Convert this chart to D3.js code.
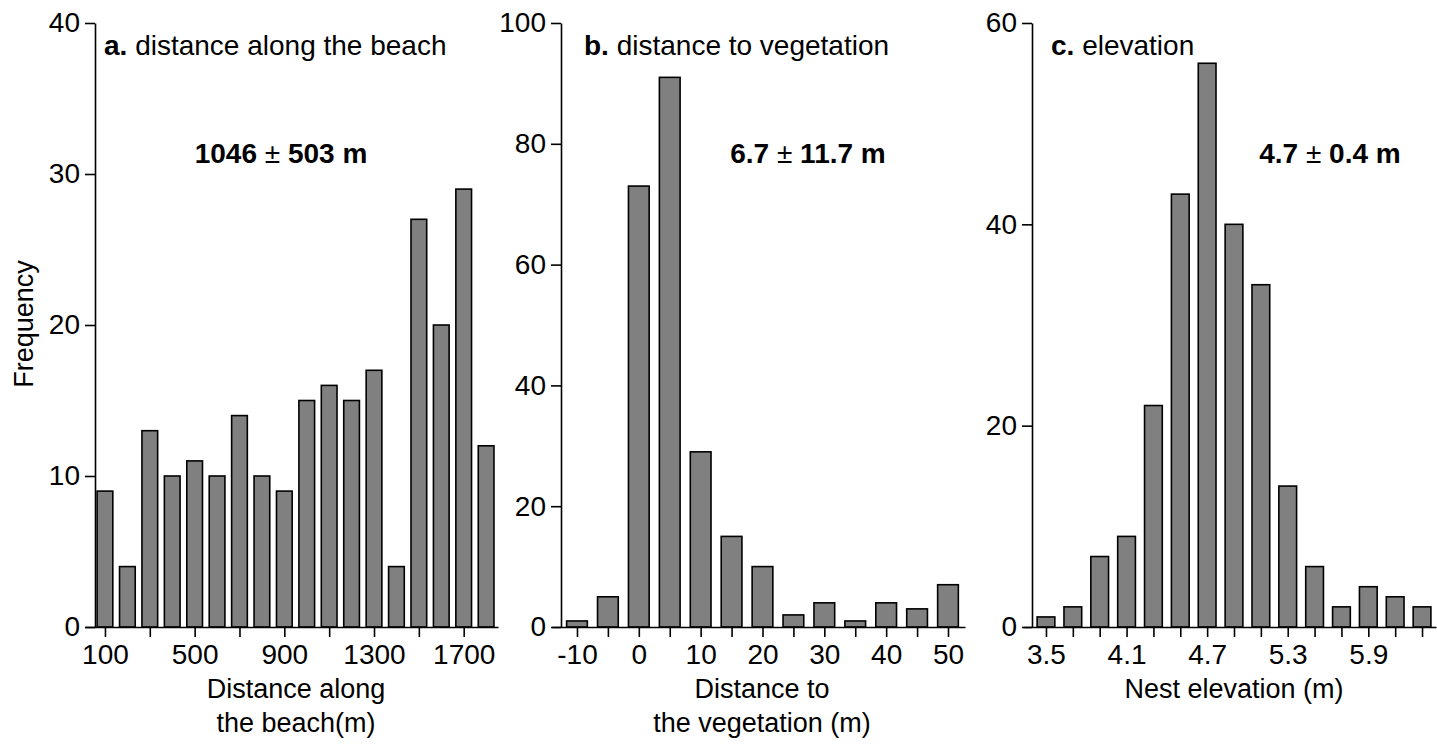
<!DOCTYPE html>
<html>
<head>
<meta charset="utf-8">
<script src="https://cdn.jsdelivr.net/npm/d3@7"></script>
<style>
  body { margin: 0; background: #fff; }
  svg { display: block; font-family: "Liberation Sans", Arial, sans-serif; }
</style>
</head>
<body>
<svg id="chart" width="1437" height="747"></svg>
<script>
// ---- data ----
const beachBins = [100,200,300,400,500,600,700,800,900,1000,1100,1200,1300,1400,1500,1600,1700,1800];
const beachFreq = [9,4,13,10,11,10,14,10,9,15,16,15,17,4,27,20,29,12];
const beachTicks = [100,300,500,700,900,1100,1300,1500,1700];
const beachLabels = [100,500,900,1300,1700];
const beachYTicks = [0,10,20,30,40];

const vegBins = [-10,-5,0,5,10,15,20,25,30,35,40,45,50];
const vegFreq = [1,5,73,91,29,15,10,2,4,1,4,3,7];
const vegTicks = [-10,-5,0,5,10,15,20,25,30,35,40,45,50];
const vegLabels = [-10,0,10,20,30,40,50];
const vegYTicks = [0,20,40,60,80,100];

const elevBins = [3.5,3.7,3.9,4.1,4.3,4.5,4.7,4.9,5.1,5.3,5.5,5.7,5.9,6.1,6.3];
const elevFreq = [1,2,7,9,22,43,56,40,34,14,6,2,4,3,2];
const elevTicks = [3.5,3.7,3.9,4.1,4.3,4.5,4.7,4.9,5.1,5.3,5.5,5.7,5.9,6.1,6.3];
const elevLabels = [3.5,4.1,4.7,5.3,5.9];
const elevYTicks = [0,20,40,60];

const panels = [
  { bins: beachBins, freq: beachFreq, ticks: beachTicks, labels: beachLabels, yTicks: beachYTicks,
    xDomain: [11, 1853], xRange: [85, 498], yMax: 40, step: 100, barFrac: 0.70,
    yAxisX: 95, letter: "a.", title: " distance along the beach", titleX: 104,
    stat: ["1046", "503 m"], statX: 281, fmt: d => String(d),
    xTitle: ["Distance along", "the beach(m)"], xTitleX: 296 },
  { bins: vegBins, freq: vegFreq, ticks: vegTicks, labels: vegLabels, yTicks: vegYTicks,
    xDomain: [-14.04, 52.75], xRange: [552, 965], yMax: 100, step: 5, barFrac: 0.67,
    yAxisX: 561, letter: "b.", title: " distance to vegetation", titleX: 584,
    stat: ["6.7", "11.7 m"], statX: 808, fmt: d => String(d),
    xTitle: ["Distance to", "the vegetation (m)"], xTitleX: 762 },
  { bins: elevBins, freq: elevFreq, ticks: elevTicks, labels: elevLabels, yTicks: elevYTicks,
    xDomain: [3.329, 6.404], xRange: [1023, 1436], yMax: 60, step: 0.2, barFrac: 0.66,
    yAxisX: 1032, letter: "c.", title: " elevation", titleX: 1051,
    stat: ["4.7", "0.4 m"], statX: 1330, fmt: d => d.toFixed(1),
    xTitle: ["Nest elevation (m)"], xTitleX: 1234 }
];

const svg = d3.select("#chart");
const yTop = 23, yBottom = 627;

panels.forEach(p => {
  const x = d3.scaleLinear().domain(p.xDomain).range(p.xRange);
  const y = d3.scaleLinear().domain([0, p.yMax]).range([yBottom, yTop]);
  const g = svg.append("g");
  const bw = (x(p.step) - x(0)) * p.barFrac;

  // bars
  g.selectAll("rect.bar").data(p.bins.map((b, i) => ({ b, v: p.freq[i] })))
    .join("rect")
    .attr("class", "bar")
    .attr("x", d => x(d.b) - bw / 2)
    .attr("y", d => y(d.v))
    .attr("width", bw)
    .attr("height", d => y(0) - y(d.v))
    .attr("fill", "#808080")
    .attr("stroke", "#000")
    .attr("stroke-width", 1.6);

  // x axis
  const labelSet = new Set(p.labels.map(v => +v.toFixed(3)));
  const xAxis = d3.axisBottom(x).tickValues(p.ticks).tickSize(10).tickSizeOuter(0).tickPadding(7)
    .tickFormat(d => labelSet.has(+d.toFixed(3)) ? p.fmt(d) : "");
  const gx = g.append("g").attr("transform", `translate(0,${yBottom})`).call(xAxis);
  gx.select(".domain").attr("stroke", "#000").attr("stroke-width", 1.6);
  gx.selectAll(".tick line").attr("stroke", "#000").attr("stroke-width", 1.6);
  gx.selectAll(".tick text").attr("font-size", 28).attr("fill", "#000")
    .attr("font-family", "Liberation Sans, Arial, sans-serif");

  // y axis
  const yAxis = d3.axisLeft(y).tickValues(p.yTicks).tickSize(10).tickSizeOuter(0).tickPadding(5)
    .tickFormat(d3.format("d"));
  const gy = g.append("g").attr("transform", `translate(${p.yAxisX},0)`).call(yAxis);
  gy.select(".domain").attr("stroke", "#000").attr("stroke-width", 1.6);
  gy.selectAll(".tick line").attr("stroke", "#000").attr("stroke-width", 1.6);
  gy.selectAll(".tick text").attr("font-size", 28).attr("fill", "#000")
    .attr("font-family", "Liberation Sans, Arial, sans-serif");

  // panel title
  const t = g.append("text").attr("x", p.titleX).attr("y", 55).attr("font-size", 28).attr("fill", "#000");
  t.append("tspan").attr("font-weight", "bold").text(p.letter);
  t.append("tspan").text(p.title);

  // stats
  const s = g.append("text").attr("x", p.statX).attr("y", 163).attr("font-size", 28)
    .attr("text-anchor", "middle").attr("fill", "#000");
  s.append("tspan").attr("font-weight", "bold").text(p.stat[0] + " ");
  s.append("tspan").attr("font-weight", "normal").text("\u00B1");
  s.append("tspan").attr("font-weight", "bold").text(" " + p.stat[1]);

  // x title
  p.xTitle.forEach((line, i) => {
    g.append("text").attr("x", p.xTitleX).attr("y", 698 + i * 34).attr("font-size", 27)
      .attr("text-anchor", "middle").attr("fill", "#000").text(line);
  });
});

// y title
svg.append("text")
  .attr("transform", "translate(33,324) rotate(-90)")
  .attr("text-anchor", "middle").attr("font-size", 27).attr("fill", "#000")
  .text("Frequency");
</script>
</body>
</html>
